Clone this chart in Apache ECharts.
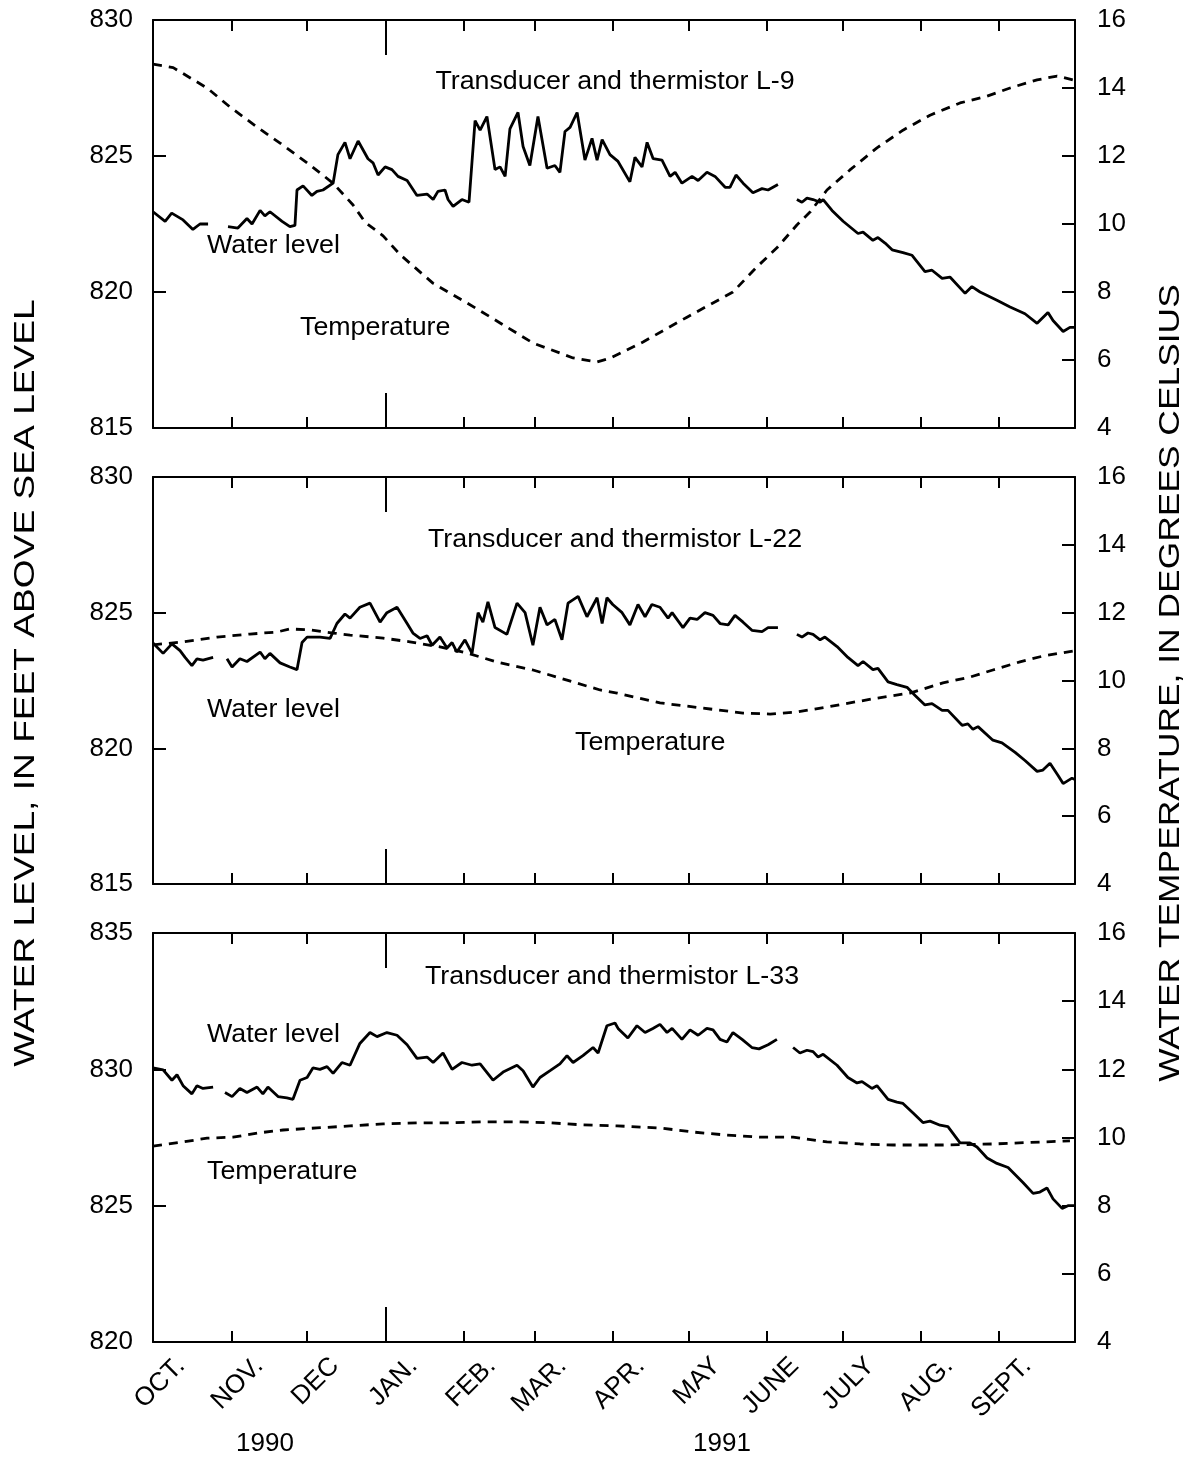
<!DOCTYPE html>
<html><head><meta charset="utf-8">
<script src="https://cdn.jsdelivr.net/npm/echarts@6/dist/echarts.min.js"></script>
<style>html,body{margin:0;padding:0;background:#fff}#c{width:1190px;height:1459px}</style>
</head><body><div id="c"></div>
<script>
// x values: days since Oct. 1, 1990
const monthNames = ['OCT.','NOV.','DEC','JAN.','FEB.','MAR.','APR.','MAY','JUNE','JULY','AUG.','SEPT.'];
const monthStarts = [0,31,61,92,123,151,182,212,243,273,304,335,365];
const yearLabels = ['1990','1991'];
const panelTitles = ['Transducer and thermistor L-9','Transducer and thermistor L-22','Transducer and thermistor L-33'];
const levelRanges = [[815,830],[815,830],[820,835]];
const tempRange = [4,16];

const levelL9 = [[0,822.95],[4.8,822.6],[7.4,822.9],[11.9,822.65],[15.8,822.3],[18.6,822.5],[21.8,822.5],[25.5,null],
[29.7,822.4],[33.6,822.35],[37.2,822.7],[39.2,822.5],[42.4,823.0],[44.3,822.8],[46.3,822.95],[51.1,822.6],[54.2,822.4],[56.2,822.45],
[57.0,823.75],[59.4,823.9],[62.9,823.55],[64.9,823.7],[67.3,823.75],[71.3,824.0],[73.2,825.05],[76.0,825.5],[78.0,824.9],[81.2,825.55],
[85.1,824.9],[87.1,824.75],[89.1,824.3],[91.9,824.6],[94.6,824.5],[97.0,824.25],[100.6,824.1],[104.5,823.55],[108.5,823.6],[110.9,823.4],
[112.8,823.7],[115.6,823.75],[116.8,823.4],[118.8,823.15],[122.3,823.4],[125.1,823.3],[127.5,826.3],[129.5,825.95],[132.2,826.45],
[135.4,824.5],[137.4,824.6],[139.4,824.25],[141.3,826.0],[144.5,826.6],[146.5,825.35],[149.2,824.65],[152.4,826.45],[156.0,824.55],
[159.1,824.65],[161.1,824.4],[163.1,825.9],[165.1,826.05],[167.9,826.6],[171.0,824.85],[173.8,825.65],[175.8,824.85],[177.8,825.6],
[180.9,825.05],[184.1,824.8],[188.8,824.05],[190.8,824.95],[193.6,824.6],[195.6,825.5],[198.0,824.9],[201.5,824.85],[204.7,824.25],
[206.7,824.4],[209.4,824.0],[213.4,824.25],[215.8,824.1],[219.3,824.4],[222.5,824.25],[226.5,823.85],[228.4,823.85],[230.8,824.3],
[233.6,824.0],[237.5,823.65],[241.1,823.8],[243.5,823.75],[247.4,823.95],[251,null],
[254.9,823.4],[256.9,823.3],[258.9,823.45],[261.3,823.4],[264.1,823.3],[265.3,823.4],[268.8,823.0],[273.2,822.6],[279.1,822.15],
[281.1,822.2],[285.0,821.9],[287.0,822.0],[289.8,821.8],[292.6,821.55],[296.9,821.45],[300.5,821.35],[305.6,820.75],[308.4,820.8],
[312.4,820.5],[315.5,820.55],[321.5,819.95],[324.2,820.2],[327.4,820.0],[334.1,819.7],[339.3,819.45],[345.2,819.2],[350.0,818.85],
[354.3,819.25],[356.3,818.95],[360.3,818.55],[363.0,818.7],[365,818.7]];

const tempL9 = [[0,14.7],[8,14.6],[21.4,14.0],[30.5,13.44],[41.2,12.85],[50.3,12.38],[61.0,11.8],[71.3,11.2],[79.2,10.56],[84,10.05],
[91.1,9.65],[97.8,9.1],[110.8,8.26],[124.3,7.68],[137.4,7.09],[150.4,6.5],[166.3,6.06],[175.8,5.94],[180.9,6.05],[194.0,6.53],
[211.4,7.26],[229.6,8.0],[239.1,8.74],[247.0,9.3],[254.9,9.97],[260.1,10.35],[266.8,11.0],[275.9,11.59],[286.6,12.24],[296.9,12.76],
[307.6,13.2],[319.5,13.56],[330.2,13.76],[339.3,14.0],[350.0,14.24],[357.9,14.35],[364.2,14.24]];

const levelL22 = [[0,823.88],[4.0,823.5],[7.5,823.85],[10.7,823.6],[12.7,823.35],[15.4,823.05],[17.4,823.3],[19.8,823.25],[23.8,823.35],[26.5,null],
[29.3,823.3],[31.3,823.0],[34.4,823.3],[37.2,823.2],[42.4,823.55],[44.3,823.3],[46.3,823.5],[50.3,823.15],[54.2,823.0],[57.0,822.9],
[59.0,823.9],[61.0,824.1],[66.1,824.1],[70.1,824.05],[72.8,824.6],[76.0,824.95],[78.0,824.8],[81.9,825.2],[85.9,825.35],[89.9,824.65],
[92.6,825.0],[96.6,825.2],[100.6,824.6],[102.9,824.25],[105.7,824.05],[108.5,824.15],[110.5,823.8],[113.6,824.1],[116.4,823.7],
[118.4,823.9],[120.3,823.55],[123.5,824.0],[126.3,823.5],[128.7,825.0],[130.6,824.65],[132.6,825.4],[135.4,824.45],[140.1,824.2],
[144.1,825.35],[147.3,825.0],[150.4,823.8],[153.2,825.2],[156.0,824.55],[159.1,824.75],[161.9,824.0],[164.3,825.35],[168.3,825.6],
[171.8,824.85],[175.8,825.55],[177.8,824.6],[179.7,825.55],[182.0,825.3],[185.7,825.0],[188.8,824.55],[192.0,825.3],[194.8,824.85],
[197.5,825.3],[200.7,825.2],[203.9,824.8],[205.5,825.0],[209.8,824.45],[212.6,824.8],[215.4,824.75],[218.5,825.0],[221.7,824.9],
[224.5,824.6],[227.7,824.55],[230.4,824.9],[233.6,824.65],[237.1,824.35],[241.1,824.3],[243.5,824.45],[247.4,824.45],[251,null],
[254.9,824.2],[256.9,824.1],[259.3,824.25],[261.3,824.2],[264.1,824.0],[266.0,824.1],[270.8,823.75],[275.1,823.35],[279.1,823.05],
[281.1,823.2],[285.0,822.9],[287.0,822.95],[291.0,822.45],[294.5,822.35],[298.5,822.25],[301.7,821.95],[305.6,821.6],[308.4,821.65],
[312.4,821.4],[314.7,821.4],[320.3,820.85],[322.6,820.9],[324.6,820.7],[326.6,820.8],[332.5,820.3],[336.1,820.2],[341.3,819.85],
[345.2,819.55],[350.0,819.15],[352.3,819.2],[355.1,819.45],[358.3,819.0],[360.3,818.7],[363.8,818.9],[365,818.85]];

const tempL22 = [[0,11.05],[11.9,11.14],[25.3,11.28],[38.4,11.37],[49.1,11.43],[54.2,11.52],[62.2,11.49],[71.3,11.4],[78.0,11.34],
[91.1,11.25],[101.7,11.14],[113.6,10.99],[124.3,10.81],[137.4,10.52],[150.4,10.31],[163.9,10.01],[177.0,9.72],[183.7,9.63],
[200.7,9.34],[220.5,9.16],[233.6,9.04],[244.3,9.01],[254.9,9.07],[266.8,9.22],[275.9,9.34],[286.6,9.48],[299.7,9.63],[312.7,9.93],
[323.4,10.1],[332.5,10.31],[343.2,10.55],[352.3,10.72],[364.2,10.87]];

const levelL33 = [[0,830.05],[4.0,829.98],[7.5,829.6],[9.5,829.8],[11.9,829.4],[15.4,829.1],[17.4,829.4],[19.8,829.3],[23.8,829.35],[26,null],
[28.5,829.15],[31.3,829.0],[34.4,829.3],[37.2,829.15],[41.2,829.35],[43.5,829.1],[45.5,829.35],[49.5,829.0],[53.0,828.95],[55.4,828.9],
[58.2,829.6],[61.0,829.7],[63.3,830.05],[66.1,830.0],[68.9,830.1],[71.3,829.85],[74.8,830.25],[78.0,830.15],[81.9,830.95],[85.9,831.35],
[88.7,831.2],[92.6,831.35],[96.6,831.25],[100.6,830.9],[104.5,830.4],[108.5,830.45],[110.9,830.25],[114.8,830.6],[118.4,830.0],
[122.3,830.25],[126.3,830.15],[129.5,830.2],[134.6,829.6],[138.6,829.9],[144.1,830.15],[146.5,829.95],[150.4,829.35],[153.2,829.7],
[157.2,829.95],[161.1,830.2],[163.9,830.5],[166.3,830.25],[170.2,830.5],[174.2,830.8],[176.2,830.6],[179.7,831.6],[182.9,831.7],
[184.1,831.5],[188.0,831.15],[191.6,831.6],[194.8,831.35],[197.9,831.5],[200.7,831.65],[203.5,831.35],[205.5,831.5],[209.4,831.1],
[212.6,831.45],[215.8,831.25],[219.3,831.5],[221.7,831.45],[224.5,831.1],[227.2,831.0],[229.6,831.35],[233.2,831.1],[237.1,830.8],
[239.9,830.75],[243.5,830.9],[247.0,831.1],[250,null],
[253.4,830.8],[256.1,830.6],[258.9,830.7],[261.3,830.65],[263.3,830.45],[265.3,830.55],[270.8,830.15],[275.1,829.7],[278.7,829.5],
[280.7,829.55],[284.6,829.3],[286.6,829.4],[291.0,828.9],[294.5,828.8],[296.9,828.75],[300.9,828.4],[304.8,828.05],[307.6,828.1],
[311.6,827.95],[314.7,827.9],[319.5,827.3],[323.4,827.3],[326.2,827.15],[330.2,826.75],[334.1,826.55],[338.5,826.4],[344.4,825.85],
[348.4,825.45],[351.1,825.5],[353.9,825.65],[356.3,825.25],[359.9,824.9],[362.2,825.0],[365,825.0]];

const tempL33 = [[0,9.75],[11.9,9.87],[21.4,9.98],[31.7,10.01],[41.2,10.13],[51.5,10.22],[64.9,10.28],[78.0,10.34],[91.1,10.4],
[104.5,10.43],[117.6,10.43],[130.6,10.46],[144.1,10.46],[157.2,10.43],[170.2,10.37],[183.7,10.34],[200.7,10.28],[213.8,10.16],
[227.2,10.07],[240.3,10.01],[253.4,10.01],[266.8,9.87],[279.9,9.81],[293.0,9.78],[312.7,9.78],[332.5,9.81],[352.3,9.87],[363.0,9.9]];

const levels = [levelL9, levelL22, levelL33];
const temps = [tempL9, tempL22, tempL33];

const FONT = 'Liberation Sans, Arial, Helvetica, sans-serif';
const BLACK = '#000';
const grids = [
  {left:153, top:20, width:922, height:408},
  {left:153, top:477, width:922, height:407},
  {left:153, top:933, width:922, height:409}
];
const labelPos = monthStarts.slice(0,12).map(d => d + 11);

const xAxis = [], yAxis = [], series = [];
grids.forEach((g, i) => {
  const lineStyle = {color:BLACK, width:2};
  xAxis.push({gridIndex:i, type:'value', min:0, max:365, position:'bottom',
    axisLine:{show:true, onZero:false, lineStyle},
    axisTick:{show:true, inside:true, length:11, customValues:monthStarts.slice(1,12), lineStyle},
    axisLabel: i === 2 ? {show:true, customValues:labelPos, rotate:45, margin:20, fontSize:26, fontFamily:FONT, color:BLACK,
      formatter: v => { let k = 0, best = 1e9; labelPos.forEach((p, j) => { if (Math.abs(p - v) < best) { best = Math.abs(p - v); k = j; } }); return monthNames[k]; }}
      : {show:false},
    splitLine:{show:false}});
  xAxis.push({gridIndex:i, type:'value', min:0, max:365, position:'top',
    axisLine:{show:true, onZero:false, lineStyle},
    axisTick:{show:true, inside:true, length:11, customValues:monthStarts.slice(1,12), lineStyle},
    axisLabel:{show:false}, splitLine:{show:false}});
  xAxis.push({gridIndex:i, type:'value', min:0, max:365, position:'bottom',
    axisLine:{show:false, onZero:false}, axisTick:{show:true, inside:true, length:35, customValues:[monthStarts[3]], lineStyle},
    axisLabel:{show:false}, splitLine:{show:false}});
  xAxis.push({gridIndex:i, type:'value', min:0, max:365, position:'top',
    axisLine:{show:false, onZero:false}, axisTick:{show:true, inside:true, length:35, customValues:[monthStarts[3]], lineStyle},
    axisLabel:{show:false}, splitLine:{show:false}});
  yAxis.push({gridIndex:i, type:'value', min:levelRanges[i][0], max:levelRanges[i][1], interval:5, position:'left',
    axisLine:{show:true, onZero:false, lineStyle}, axisTick:{show:true, inside:true, length:13, lineStyle},
    axisLabel:{margin:20, fontSize:26, fontFamily:FONT, color:BLACK}, splitLine:{show:false}});
  yAxis.push({gridIndex:i, type:'value', min:tempRange[0], max:tempRange[1], interval:2, position:'right',
    axisLine:{show:true, onZero:false, lineStyle}, axisTick:{show:true, inside:true, length:13, lineStyle},
    axisLabel:{margin:22, fontSize:26, fontFamily:FONT, color:BLACK}, splitLine:{show:false}});
  series.push({type:'line', name:'Water level', xAxisIndex:i*4, yAxisIndex:i*2, data:levels[i],
    showSymbol:false, connectNulls:false, lineStyle:{color:BLACK, width:2.8}, itemStyle:{color:BLACK}, animation:false});
  series.push({type:'line', name:'Temperature', xAxisIndex:i*4, yAxisIndex:i*2+1, data:temps[i],
    showSymbol:false, lineStyle:{color:BLACK, width:2.8, type:[9,7]}, itemStyle:{color:BLACK}, animation:false});
});

function txt(text, x, y, align, size, rot, sx) {
  return {type:'text', x, y, rotation: rot || 0, scaleX: sx || 1,
    style:{text, fill:BLACK, font: size + 'px ' + FONT, textAlign:align, align:align, textVerticalAlign:'middle', verticalAlign:'middle'}};
}
const graphic = [
  txt(panelTitles[0], 615, 82, 'center', 26, 0, 1.03),
  txt('Water level', 207, 246, 'left', 26, 0, 1.03),
  txt('Temperature', 300, 328, 'left', 26, 0, 1.03),
  txt(panelTitles[1], 615, 540, 'center', 26, 0, 1.03),
  txt('Water level', 207, 710, 'left', 26, 0, 1.03),
  txt('Temperature', 575, 743, 'left', 26, 0, 1.03),
  txt(panelTitles[2], 612, 977, 'center', 26, 0, 1.03),
  txt('Water level', 207, 1035, 'left', 26, 0, 1.03),
  txt('Temperature', 207, 1172, 'left', 26, 0, 1.03),
  txt(yearLabels[0], 265, 1444, 'center', 26),
  txt(yearLabels[1], 722, 1444, 'center', 26),
  txt('WATER LEVEL, IN FEET ABOVE SEA LEVEL', 26, 683, 'center', 29, Math.PI/2, 1.28),
  txt('WATER TEMPERATURE, IN DEGREES CELSIUS', 1171, 683, 'center', 29, Math.PI/2, 1.22)
];

const chart = echarts.init(document.getElementById('c'), null, {renderer:'canvas'});
chart.setOption({backgroundColor:'#fff', animation:false, grid:grids, xAxis, yAxis, series, graphic});
</script>
</body></html>
